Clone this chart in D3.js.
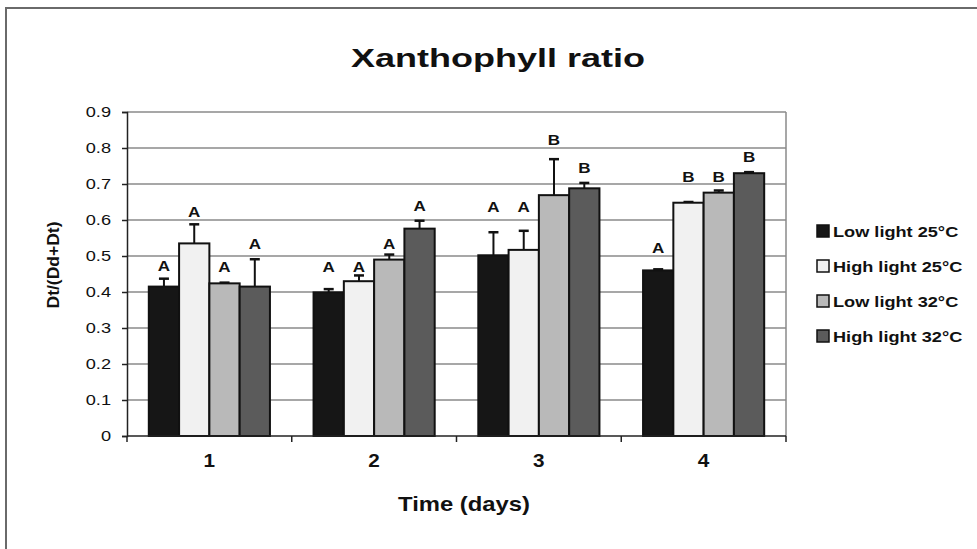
<!DOCTYPE html>
<html>
<head>
<meta charset="utf-8">
<script src="https://cdn.jsdelivr.net/npm/d3@7"></script>
<style>
  body { margin: 0; background: #fff; }
  text { font-family: "Liberation Sans", Arial, sans-serif; fill: #111; }
</style>
</head>
<body>
<div id="cnv"></div>
<script>
// data
var days = ["1", "2", "3", "4"];
var series = ["Low light 25°C", "High light 25°C", "Low light 32°C", "High light 32°C"];
var lowLight25  = [0.415, 0.399, 0.502, 0.460];
var highLight25 = [0.535, 0.430, 0.517, 0.648];
var lowLight32  = [0.424, 0.490, 0.669, 0.676];
var highLight32 = [0.415, 0.576, 0.688, 0.730];
var errLow25  = [0.022, 0.009, 0.064, 0.003];
var errHigh25 = [0.053, 0.016, 0.053, 0.002];
var errLow32  = [0.002, 0.014, 0.100, 0.006];
var errHigh32 = [0.076, 0.022, 0.015, 0.003];
// significance letters and the height (axis units) they sit at
var letters = [["A","A","A","A"], ["A","A","A","A"], ["A","A","B","B"], ["A","B","B","B"]];
var letterY = [[0.458, 0.607, 0.456, 0.519], [0.456, 0.456, 0.519, 0.625],
               [0.623, 0.623, 0.808, 0.731], [0.509, 0.706, 0.706, 0.760]];
var yTicks = [0, 0.1, 0.2, 0.3, 0.4, 0.5, 0.6, 0.7, 0.8, 0.9];

var means = [lowLight25, highLight25, lowLight32, highLight32];
var errs = [errLow25, errHigh25, errLow32, errHigh32];
var colors = ["#161616", "#f1f1f1", "#b9b9b9", "#5b5b5b"];

var width = 977, height = 549;
var margin = {top: 112, right: 191, bottom: 113, left: 127},
    graphWidth = width - margin.left - margin.right,
    graphHeight = height - margin.top - margin.bottom;

var svg = d3.select("#cnv").append("svg")
  .attr("width", width)
  .attr("height", height);

// stretch text horizontally to match the (wide) original
function stretch(sel, k) {
  sel.each(function() {
    var w = this.getComputedTextLength();
    d3.select(this).attr("textLength", w * k).attr("lengthAdjust", "spacingAndGlyphs");
  });
}

// frame
svg.append("path")
  .attr("d", "M6," + height + "V8H" + width)
  .attr("fill", "none")
  .attr("stroke", "#6a6a6a")
  .attr("stroke-width", 2);

var g = svg.append("g")
  .attr("transform", "translate(" + margin.left + "," + margin.top + ")");

var yScale = d3.scaleLinear().domain([0, 0.9]).range([graphHeight, 0]);
var xScale = d3.scaleBand().domain(days).range([0, graphWidth]).padding(0);
var x1 = d3.scaleBand().domain(d3.range(series.length))
  .range([0, xScale.bandwidth()]).paddingInner(0).paddingOuter(0.72);

// gridlines
g.append("g").selectAll("line")
  .data(yTicks.filter(function(d){ return d > 0; }))
  .enter().append("line")
  .attr("x1", 0).attr("x2", graphWidth)
  .attr("y1", function(d){ return yScale(d); })
  .attr("y2", function(d){ return yScale(d); })
  .attr("stroke", "#8a8a8a")
  .attr("stroke-width", 1.5);

// right edge of plot area
g.append("line")
  .attr("x1", graphWidth).attr("x2", graphWidth)
  .attr("y1", 0).attr("y2", graphHeight)
  .attr("stroke", "#8a8a8a")
  .attr("stroke-width", 1.5);

// bars
var rows = [];
days.forEach(function(day, i) {
  series.forEach(function(s, j) {
    rows.push({day: day, s: j, v: means[j][i], e: errs[j][i], l: letters[i][j], ly: letterY[i][j]});
  });
});

var bars = g.append("g").selectAll("g")
  .data(rows).enter().append("g")
  .attr("transform", function(d){ return "translate(" + (xScale(d.day) + x1(d.s)) + ",0)"; });

// error bars behind the bars
var bw = x1.bandwidth();
bars.append("line")
  .attr("x1", bw / 2).attr("x2", bw / 2)
  .attr("y1", function(d){ return yScale(d.v); })
  .attr("y2", function(d){ return yScale(d.v + d.e); })
  .attr("stroke", "#111").attr("stroke-width", 2);
bars.append("line")
  .attr("x1", bw / 2 - 5).attr("x2", bw / 2 + 5)
  .attr("y1", function(d){ return yScale(d.v + d.e); })
  .attr("y2", function(d){ return yScale(d.v + d.e); })
  .attr("stroke", "#111").attr("stroke-width", 2.5);

bars.append("rect")
  .attr("x", 0)
  .attr("width", bw)
  .attr("y", function(d){ return yScale(d.v); })
  .attr("height", function(d){ return graphHeight - yScale(d.v); })
  .attr("fill", function(d){ return colors[d.s]; })
  .attr("stroke", "#111")
  .attr("stroke-width", 2);

bars.append("text")
  .attr("x", bw / 2)
  .attr("y", function(d){ return yScale(d.ly); })
  .attr("text-anchor", "middle")
  .attr("font-size", 15.5)
  .attr("font-weight", "bold")
  .text(function(d){ return d.l; })
  .call(stretch, 1.1);

// y axis
var yAxis = g.append("g")
  .call(d3.axisLeft(yScale).tickValues(yTicks).tickSize(5).tickPadding(11)
    .tickFormat(function(d){ return d === 0 ? "0" : d3.format(".1f")(d); }));
yAxis.select(".domain").attr("stroke", "#222").attr("stroke-width", 1.5);
yAxis.selectAll(".tick line").attr("stroke", "#222").attr("stroke-width", 1.5);
yAxis.selectAll("text")
  .attr("font-size", 14)
  .attr("font-family", "Liberation Sans, Arial, sans-serif")
  .attr("fill", "#222")
  .call(stretch, 1.3);

// x axis
var xAxis = g.append("g")
  .attr("transform", "translate(0," + graphHeight + ")");
xAxis.append("line")
  .attr("x1", 0).attr("x2", graphWidth)
  .attr("stroke", "#222").attr("stroke-width", 1.5);
xAxis.selectAll(".sep")
  .data(days.concat(["end"]))
  .enter().append("line")
  .attr("x1", function(d, i){ return i * xScale.step(); })
  .attr("x2", function(d, i){ return i * xScale.step(); })
  .attr("y1", 0).attr("y2", 6)
  .attr("stroke", "#222").attr("stroke-width", 1.5);
xAxis.selectAll(".lab")
  .data(days).enter().append("text")
  .attr("x", function(d){ return xScale(d) + xScale.bandwidth() / 2; })
  .attr("y", 31)
  .attr("text-anchor", "middle")
  .attr("font-size", 18)
  .attr("font-weight", "bold")
  .text(function(d){ return d; })
  .call(stretch, 1.15);

// titles
svg.append("text")
  .attr("x", 498).attr("y", 67)
  .attr("text-anchor", "middle")
  .attr("font-size", 26)
  .attr("font-weight", "bold")
  .attr("textLength", 294).attr("lengthAdjust", "spacingAndGlyphs")
  .text("Xanthophyll ratio");

svg.append("text")
  .attr("x", 464).attr("y", 511)
  .attr("text-anchor", "middle")
  .attr("font-size", 21)
  .attr("font-weight", "bold")
  .attr("textLength", 132).attr("lengthAdjust", "spacingAndGlyphs")
  .text("Time (days)");

svg.append("text")
  .attr("transform", "translate(59,265) rotate(-90)")
  .attr("text-anchor", "middle")
  .attr("font-size", 17)
  .attr("font-weight", "bold")
  .attr("textLength", 87).attr("lengthAdjust", "spacingAndGlyphs")
  .text("Dt/(Dd+Dt)");

// legend
var legend = svg.append("g").attr("transform", "translate(817,231)");
var item = legend.selectAll("g")
  .data(series).enter().append("g")
  .attr("transform", function(d, i){ return "translate(0," + (i * 35) + ")"; });
item.append("rect")
  .attr("x", 0).attr("y", -6)
  .attr("width", 12).attr("height", 12)
  .attr("fill", function(d, i){ return colors[i]; })
  .attr("stroke", "#111")
  .attr("stroke-width", 1.5);
item.append("text")
  .attr("x", 16).attr("y", 5.5)
  .attr("font-size", 15)
  .attr("font-weight", "bold")
  .text(function(d){ return d; })
  .call(stretch, 1.21);
</script>
</body>
</html>
